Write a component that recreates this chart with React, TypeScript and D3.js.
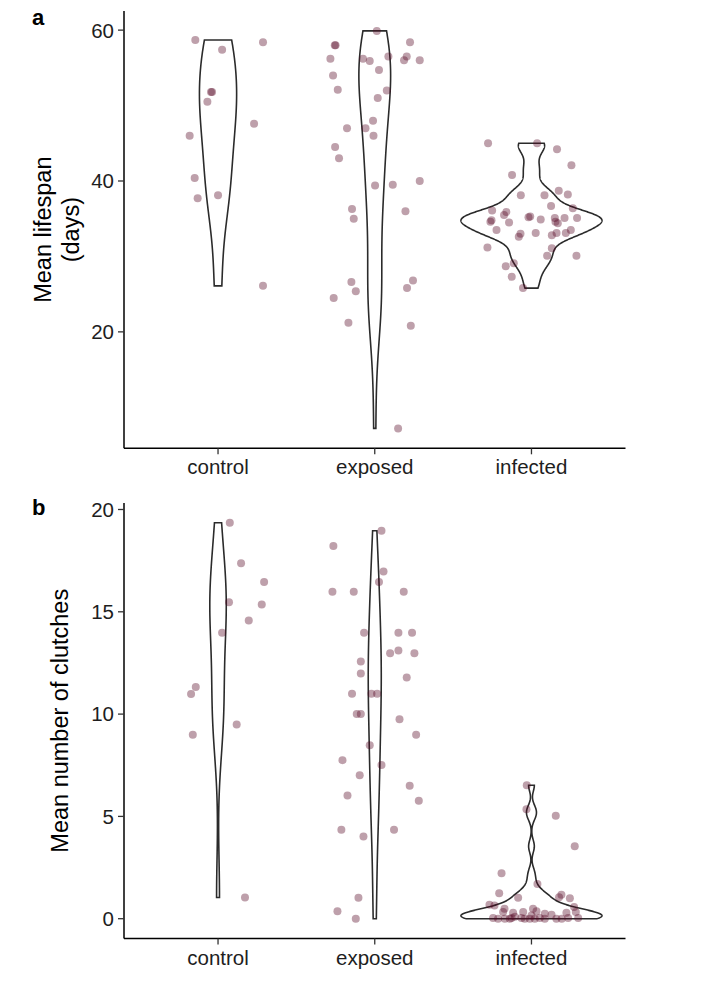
import React from "react";
import * as d3 from "d3";

const categories = ["control", "exposed", "infected"];
const lifespanTicks = [20, 40, 60];
const clutchTicks = [0, 5, 10, 15, 20];

// Panel a: mean lifespan (days); jitter = horizontal offset in category units
const lifespanControl = [58.7, 57.4, 58.4, 51.8, 51.8, 50.5, 47.6, 46.0, 40.4, 37.7, 38.1, 26.1];
const lifespanControlJitter = [-0.145, 0.026, 0.287, -0.045, -0.038, -0.068, 0.23, -0.181, -0.149, -0.13, 0.0, 0.287];

const lifespanExposed = [59.9, 58.0, 58.0, 58.4, 56.2, 56.2, 55.9, 56.5, 56.5, 56.0, 56.0, 54.7, 54.0, 52.1, 52.0, 51.0, 48.0, 47.0, 47.0, 46.0, 44.5, 43.0, 39.4, 39.5, 40.0, 36.3, 35.0, 36.0, 26.6, 25.4, 24.5, 26.8, 25.8, 21.2, 20.8, 7.2];
const lifespanExposedJitter = [0.013, -0.255, -0.25, 0.225, -0.283, -0.075, -0.032, 0.087, 0.204, 0.187, 0.287, 0.027, -0.266, -0.236, 0.077, 0.019, -0.011, -0.177, -0.059, -0.008, -0.253, -0.228, 0.002, 0.115, 0.287, -0.145, -0.134, 0.196, -0.149, -0.121, -0.262, 0.244, 0.206, -0.168, 0.23, 0.149];

const lifespanInfected = [45.0, 45.0, 44.2, 42.1, 40.8, 38.7, 38.2, 38.1, 38.1, 36.7, 36.4, 36.1, 35.9, 35.5, 34.5, 34.6, 34.8, 35.2, 35.3, 34.9, 35.1, 34.6, 34.4, 35.1, 35.1, 33.5, 33.0, 32.6, 33.1, 32.8, 33.1, 33.1, 33.5, 31.2, 31.1, 30.1, 30.1, 28.7, 29.1, 27.3, 25.8];
const lifespanInfectedJitter = [-0.277, 0.036, 0.163, 0.255, -0.124, 0.174, 0.232, -0.068, 0.083, 0.125, 0.264, -0.251, -0.16, -0.175, -0.143, -0.262, -0.255, -0.019, -0.008, 0.059, 0.149, 0.153, 0.168, 0.211, 0.291, -0.223, -0.07, -0.081, 0.027, 0.13, 0.16, 0.219, 0.251, -0.281, 0.13, 0.1, 0.287, -0.164, -0.113, -0.126, -0.054];

// Panel b: mean number of clutches
const clutchControl = [19.35, 17.37, 16.46, 15.47, 15.36, 14.58, 13.97, 11.32, 10.98, 9.49, 8.99, 1.04];
const clutchControlJitter = [0.075, 0.147, 0.294, 0.07, 0.279, 0.196, 0.026, -0.142, -0.172, 0.119, -0.161, 0.172];

const clutchExposed = [18.96, 18.22, 16.97, 16.46, 15.98, 15.98, 15.98, 13.98, 13.98, 13.98, 12.98, 13.11, 12.98, 12.57, 11.98, 11.79, 11.0, 11.0, 11.0, 10.01, 10.01, 9.75, 8.99, 8.48, 7.75, 7.51, 7.01, 6.5, 6.02, 5.76, 4.35, 4.02, 4.35, 1.02, 0.37, 0.0];
const clutchExposedJitter = [0.043, -0.264, 0.056, 0.027, -0.27, -0.134, 0.185, -0.068, 0.151, 0.238, 0.098, 0.151, 0.253, -0.089, -0.089, 0.204, -0.145, -0.021, 0.015, -0.115, -0.089, 0.158, 0.264, -0.032, -0.206, 0.043, -0.096, 0.223, -0.174, 0.281, -0.213, -0.072, 0.123, -0.104, -0.238, -0.121];

const clutchInfected = [6.52, 5.35, 5.03, 3.54, 2.22, 1.25, 1.02, 1.7, 1.17, 1.0, 1.05, 0.68, 0.65, 0.57, 0.49, 0.49, 0.03, 0.33, 0.29, 0.33, 0.16, 0.36, 0.24, 0.19, 0.29, 0.33, 0.03, 0.0, 0.03, 0.0, 0.0, 0.03, 0.0, 0.0, 0.03, 0.03, 0.0, 0.0, 0.0, 0.1, 0.0];
const clutchInfectedJitter = [-0.03, -0.032, 0.155, 0.276, -0.191, -0.206, -0.085, 0.038, 0.191, 0.245, 0.176, -0.268, -0.236, 0.272, -0.172, 0.01, -0.245, -0.181, -0.117, -0.053, 0.0, 0.032, 0.085, 0.128, 0.223, 0.283, 0.298, -0.138, -0.127, -0.011, 0.021, 0.053, 0.159, -0.213, -0.064, 0.234, -0.17, 0.085, 0.193, -0.106, -0.043];

const FONT = "'Liberation Sans', Arial, Helvetica, sans-serif";
const POINT_COLOR = "#530523";

function bwNrd0(x: number[]): number {
  const s = x.slice().sort(d3.ascending);
  const sd = d3.deviation(s) || 0;
  const iqr = (d3.quantileSorted(s, 0.75) as number) - (d3.quantileSorted(s, 0.25) as number);
  let lo = Math.min(sd, iqr / 1.34);
  if (!(lo > 0)) lo = sd || Math.abs(s[0]) || 1;
  return 0.9 * lo * Math.pow(s.length, -0.2);
}

function kde(x: number[]) {
  const bw = bwNrd0(x);
  const [mn, mx] = d3.extent(x) as [number, number];
  const n = 512;
  const k = 1 / (x.length * bw * Math.sqrt(2 * Math.PI));
  const out: { v: number; d: number }[] = [];
  for (let i = 0; i < n; i++) {
    const v = mn + ((mx - mn) * i) / (n - 1);
    let s = 0;
    for (const xi of x) {
      const z = (v - xi) / bw;
      s += Math.exp(-0.5 * z * z);
    }
    out.push({ v, d: s * k });
  }
  return out;
}

type Group = { values: number[]; jitter: number[] };

function Panel(props: {
  groups: Group[];
  ticks: number[];
  top: number;
  bottom: number;
  title: string[];
  titleX: number[];
  label: string;
  labelY: number;
}) {
  const { groups, ticks, top, bottom, title, titleX, label, labelY } = props;
  const left = 124;
  const right = 625.5;
  const x = d3.scalePoint<string>().domain(categories).range([left, right]).padding(0.6);
  const step = x.step();
  const all = groups.flatMap((g) => g.values);
  const [mn, mx] = d3.extent(all) as [number, number];
  const pad = (mx - mn) * 0.05;
  const y = d3.scaleLinear().domain([mn - pad, mx + pad]).range([bottom, top]);

  const dens = groups.map((g) => kde(g.values));
  const maxD = d3.max(dens.flat(), (d) => d.d) as number;

  const midY = (top + bottom) / 2;

  return (
    <g>
      {dens.map((dd, i) => {
        const cx = x(categories[i]) as number;
        const area = d3
          .area<{ v: number; d: number }>()
          .y((d) => y(d.v))
          .x0((d) => cx - (0.45 * step * d.d) / maxD)
          .x1((d) => cx + (0.45 * step * d.d) / maxD);
        return (
          <path key={"v" + i} d={area(dd) as string} fill="#ffffff" stroke="#2b2b2b" strokeWidth={1.6} />
        );
      })}
      {groups.map((g, i) => {
        const cx = x(categories[i]) as number;
        return g.values.map((v, j) => (
          <circle
            key={"p" + i + "-" + j}
            cx={cx + g.jitter[j] * step}
            cy={y(v)}
            r={4}
            fill={POINT_COLOR}
            fillOpacity={0.38}
          />
        ));
      })}
      <line x1={left} x2={left} y1={top} y2={bottom} stroke="#000" strokeWidth={1.5} />
      <line x1={left} x2={right} y1={bottom} y2={bottom} stroke="#000" strokeWidth={1.5} />
      {ticks.map((t) => (
        <g key={"yt" + t}>
          <line x1={left - 6} x2={left} y1={y(t)} y2={y(t)} stroke="#333" strokeWidth={1.3} />
          <text
            x={left - 10}
            y={y(t)}
            dy="0.36em"
            textAnchor="end"
            fontSize={20.5}
            fontFamily={FONT}
            fill="#1e1e1e"
          >
            {t}
          </text>
        </g>
      ))}
      {categories.map((c) => (
        <g key={"xt" + c}>
          <line x1={x(c)} x2={x(c)} y1={bottom} y2={bottom + 6} stroke="#333" strokeWidth={1.3} />
          <text x={x(c)} y={bottom + 26} textAnchor="middle" fontSize={20.5} fontFamily={FONT} fill="#1e1e1e">
            {c}
          </text>
        </g>
      ))}
      {title.map((t, i) => (
        <text
          key={"ti" + i}
          transform={`translate(${titleX[i]},${midY}) rotate(-90)`}
          textAnchor="middle"
          fontSize={23.5}
          fontFamily={FONT}
          fill="#000"
        >
          {t}
        </text>
      ))}
      <text x={32} y={labelY} fontSize={22} fontWeight="bold" fontFamily={FONT} fill="#000">
        {label}
      </text>
    </g>
  );
}

export default function App() {
  return (
    <svg
      width={720}
      height={1006}
      style={{ position: "absolute", left: 0, top: 0, background: "#fff" }}
    >
      <rect width={720} height={1006} fill="#fff" />
      <Panel
        groups={[
          { values: lifespanControl, jitter: lifespanControlJitter },
          { values: lifespanExposed, jitter: lifespanExposedJitter },
          { values: lifespanInfected, jitter: lifespanInfectedJitter },
        ]}
        ticks={lifespanTicks}
        top={11}
        bottom={448.3}
        title={["Mean lifespan", "(days)"]}
        titleX={[51, 79]}
        label="a"
        labelY={25}
      />
      <Panel
        groups={[
          { values: clutchControl, jitter: clutchControlJitter },
          { values: clutchExposed, jitter: clutchExposedJitter },
          { values: clutchInfected, jitter: clutchInfectedJitter },
        ]}
        ticks={clutchTicks}
        top={503}
        bottom={938.5}
        title={["Mean number of clutches"]}
        titleX={[67.5]}
        label="b"
        labelY={515}
      />
    </svg>
  );
}
